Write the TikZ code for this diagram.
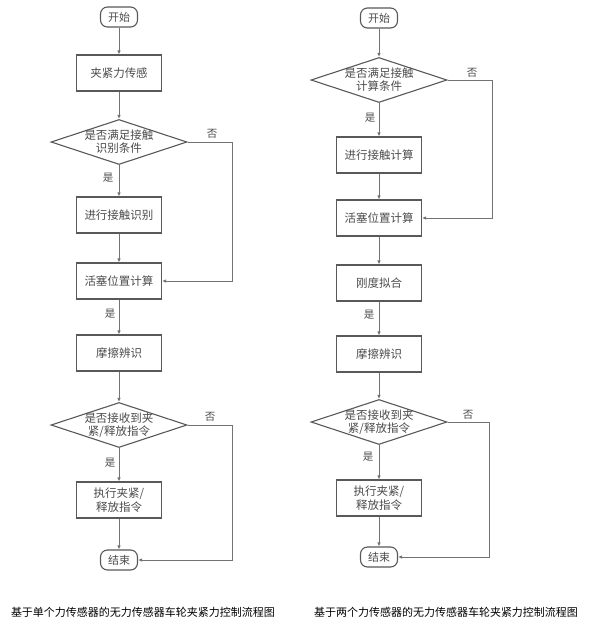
\documentclass[tikz,border=0pt]{standalone}
\usepackage{fontspec}
\setmainfont{Noto Sans CJK SC}
\usetikzlibrary{shapes.geometric,arrows.meta}

\begin{document}
\begin{tikzpicture}[x=1pt, y=-1pt,
  box/.style={draw=black!65, line width=1.1pt, shape=rectangle,
    minimum width=85pt, minimum height=36pt, align=center,
    text=black!70, font=\fontsize{11.5}{14}\selectfont},
  term/.style={draw=black!65, line width=1.1pt, rounded corners=7pt,
    minimum width=37pt, minimum height=20pt, inner sep=1pt,
    text=black!70, font=\fontsize{11}{13}\selectfont},
  test/.style={draw=black!65, line width=1.1pt, shape=diamond, aspect=3,
    inner sep=-3pt, minimum width=136pt, minimum height=45pt, align=center,
    text=black!70, font=\fontsize{11.5}{13}\selectfont},
  lbl/.style={text=black!70, font=\fontsize{10.5}{12}\selectfont},
  link/.style={draw=black!55, line width=0.8pt, -{Latex[length=4pt,width=3.5pt]}}]
\useasboundingbox[fill=white] (0,0) rectangle (592,625);

% single sensor
\node (start1) [term] at (119,17) {开始};
\node (sense1) [box] at (119,73) {夹紧力传感};
\node (cond1) [test] at (119,142) {是否满足接触\\识别条件};
\node (ident1) [box] at (119,215) {进行接触识别};
\node (pos1) [box] at (119,281) {活塞位置计算};
\node (fric1) [box] at (119,353) {摩擦辨识};
\node (cmd1) [test] at (119,425) {是否接收到夹\\紧/释放指令};
\node (exec1) [box] at (119,500) {执行夹紧/\\释放指令};
\node (end1) [term] at (119,560) {结束};
\coordinate (turnA) at (232,142);
\coordinate (turnB) at (232,425);
\node (noA) [lbl] at (212,134) {否};
\node (yesA) [lbl] at (108,178) {是};
\node (yesB) [lbl] at (110,314) {是};
\node (noB) [lbl] at (210,417) {否};
\node (yesC) [lbl] at (110,463) {是};
\draw[link] (start1) -- (sense1);
\draw[link] (sense1) -- (cond1);
\draw[link] (cond1) -- (ident1);
\draw[link] (ident1) -- (pos1);
\draw[link] (cond1.east) -- (turnA) |- (pos1.east);
\draw[link] (pos1) -- (fric1);
\draw[link] (fric1) -- (cmd1);
\draw[link] (cmd1) -- (exec1);
\draw[link] (exec1) -- (end1);
\draw[link] (cmd1.east) -- (turnB) |- (end1.east);

% two sensors
\node (start2) [term] at (379,18) {开始};
\node (cond2) [test] at (379,80) {是否满足接触\\计算条件};
\node (calc2) [box] at (379,155) {进行接触计算};
\node (pos2) [box] at (379,218) {活塞位置计算};
\node (fit2) [box] at (379,283) {刚度拟合};
\node (fric2) [box] at (379,354) {摩擦辨识};
\node (cmd2) [test] at (379,422) {是否接收到夹\\紧/释放指令};
\node (exec2) [box] at (379,498) {执行夹紧/\\释放指令};
\node (end2) [term] at (379,557) {结束};
\coordinate (turnC) at (492,80);
\coordinate (turnD) at (489,422);
\node (noC) [lbl] at (472,73) {否};
\node (yesD) [lbl] at (370,118) {是};
\node (yesE) [lbl] at (369,315) {是};
\node (noD) [lbl] at (468,415) {否};
\node (yesF) [lbl] at (368,457) {是};
\draw[link] (start2) -- (cond2);
\draw[link] (cond2) -- (calc2);
\draw[link] (calc2) -- (pos2);
\draw[link] (cond2.east) -- (turnC) |- (pos2.east);
\draw[link] (pos2) -- (fit2);
\draw[link] (fit2) -- (fric2);
\draw[link] (fric2) -- (cmd2);
\draw[link] (cmd2) -- (exec2);
\draw[link] (exec2) -- (end2);
\draw[link] (cmd2.east) -- (turnD) |- (end2.east);

\node (cap1) [font=\fontsize{11}{13}\selectfont] at (143,612) {基于单个力传感器的无力传感器车轮夹紧力控制流程图};
\node (cap2) [font=\fontsize{11}{13}\selectfont] at (446,612) {基于两个力传感器的无力传感器车轮夹紧力控制流程图};
\end{tikzpicture}
\end{document}
